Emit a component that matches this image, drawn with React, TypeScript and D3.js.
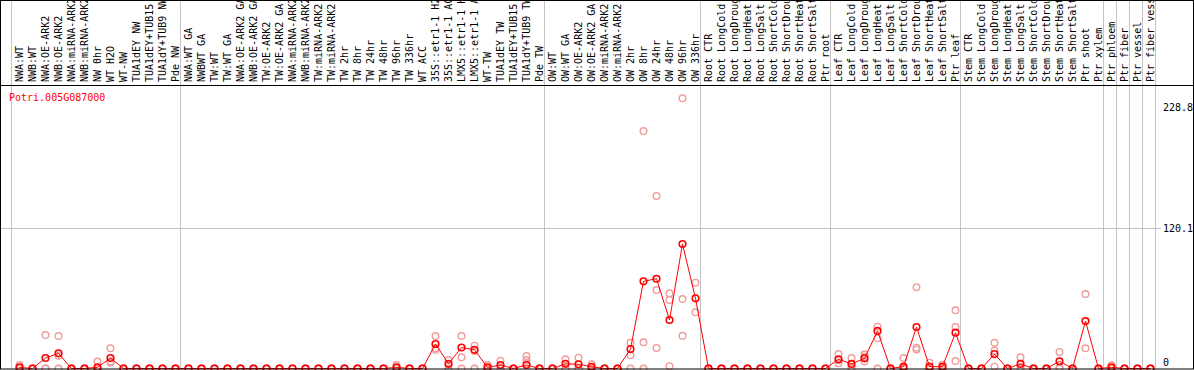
import React from "react";
import * as d3 from "d3";

const gene = "Potri.005G087000";

const labels: string[] = [
  "NWA:WT", "NWB:WT", "NWA:OE-ARK2", "NWB:OE-ARK2", "NWA:miRNA-ARK2", "NWB:miRNA-ARK2",
  "NW 0hr", "WT H2O", "WT-NW", "TUA1dEY NW", "TUA1dEY+TUB15", "TUA1dY+TUB9 NW", "Pde NW",
  "NWA:WT GA", "NWBWT GA", "TW:WT", "TW:WT GA", "NWA:OE-ARK2 GA", "NWB:OE-ARK2 GA",
  "TW:OE-ARK2", "TW:OE-ARK2 GA", "NWA:miRNA-ARK2", "NWB:miRNA-ARK2", "TW:miRNA-ARK2",
  "TW:miRNA-ARK2", "TW 2hr", "TW 8hr", "TW 24hr", "TW 48hr", "TW 96hr", "TW 336hr", "WT ACC",
  "35S::etr1-1 H2", "35S::etr1-1 AC", "LMX5::etr1-1 H", "LMX5::etr1-1 A", "WT-TW",
  "TUA1dEY TW", "TUA1dEY+TUB15", "TUA1dY+TUB9 TW", "Pde TW",
  "OW:WT", "OW:WT GA", "OW:OE-ARK2", "OW:OE-ARK2 GA", "OW:miRNA-ARK2", "OW:miRNA-ARK2",
  "OW 2hr", "OW 8hr", "OW 24hr", "OW 48hr", "OW 96hr", "OW 336hr",
  "Root CTR", "Root LongCold", "Root LongDroug", "Root LongHeat", "Root LongSalt",
  "Root ShortCold", "Root ShortDrou", "Root ShortHeat", "Root ShortSalt", "Ptr root",
  "Leaf CTR", "Leaf LongCold", "Leaf LongDroug", "Leaf LongHeat", "Leaf LongSalt",
  "Leaf ShortCold", "Leaf ShortDrou", "Leaf ShortHeat", "Leaf ShortSalt", "Ptr leaf",
  "Stem CTR", "Stem LongCold", "Stem LongDroug", "Stem LongHeat", "Stem LongSalt",
  "Stem ShortCold", "Stem ShortDrou", "Stem ShortHeat", "Stem ShortSalt", "Ptr shoot",
  "Ptr xylem", "Ptr phloem", "Ptr fiber", "Ptr vessel", "Ptr fiber vess",
];

// index at which each separated group starts (plus the end)
const groupBreaks: number[] = [0, 13, 41, 53, 63, 73, 84, 85, 86, 87, 88];

const means: number[] = [
  1, 0, 9, 13, 0, 0, 1, 9, 0, 0, 0, 0, 0,
  0, 0, 0, 0, 0, 0, 0, 0, 0, 0, 0, 0, 0, 0, 0, 0, 1, 0, 0, 21, 4, 18, 16, 1, 3, 0, 3, 0,
  0, 4, 3.6, 1.5, 0, 0, 16.7, 74.8, 77, 41.6, 106.8, 60.2,
  0, 0, 0, 0, 0, 0, 0, 0, 0, 0,
  7.9, 3.9, 8.7, 32.2, 0, 1.6, 35.6, 1.6, 1.6, 30.7,
  0, 0, 12.4, 0, 3.9, 0, 0, 6.2, 0, 40.7,
  0, 1, 0, 0, 0,
];

const rep1: (number | null)[] = [
  3, 0, 28.7, 27.9, 0, 0, 6, 17.3, 0, 0, 0, 0, 0,
  0, 0, 0, 0, 0, 0, 0, 0, 0, 0, 0, 0, 0, 0, 0, 0, 3, 0, 0, 27.9, 7.3, 27.9, 19.6, 3, 6.7, 0, 10.7, 0,
  0, 7.9, 9.3, 3.6, 0, 0, 22, 203.7, 148, 64.5, 231.8, 73.6,
  0, 0, 0, 0, 0, 0, 0, 0, 0, 0,
  12.4, 9, 12.2, 35.9, 0, 9, 69.7, 5, 3.3, 49.9,
  0, 0, 22.1, 0, 9.6, 0, 0, 14.2, 0, 63.9,
  0, 2.7, 0, 0, 0,
];

const rep2: (number | null)[] = [
  0, 0, 0, 11, 0, 0, 0, 6, 0, 0, 0, 0, 0,
  0, 0, 0, 0, 0, 0, 0, 0, 0, 0, 0, 0, 0, 0, 0, 0, 0, 0, 0, 17.3, 3, 9.6, 15, 0, 0, 0, 7.3, 0,
  0, 0, 0, 0, 0, 0, 11.3, 22.5, 67.3, 58.8, 59.6, 48.2,
  0, 0, 0, 0, 0, 0, 0, 0, 0, 0,
  7, 1, 10.1, 25.9, 0, 0, 17.9, 0, 0, 35.6,
  0, 0, 15.3, 0, 1, 0, 0, 1, 0, 17.3,
  0, 0, 0, 0, 0,
];

const rep3: (number | null)[] = [
  0, 0, 0, 0, 0, 0, 0, 5, 0, 0, 0, 0, 0,
  0, 0, 0, 0, 0, 0, 0, 0, 0, 0, 0, 0, 0, 0, 0, 0, 0, 0, 0, 16, 0, 0, 0, 0, 0, 0, 4.5, 0,
  0, 0, 0, 0, 0, 0, 0, 0, 17.6, 2, 28.1, null,
  0, 0, 0, 0, 0, 0, 0, 0, 0, 0,
  4.5, 0, 6, 0, 0, 0, 16.4, 0, 0, 6.4,
  0, 0, 1.6, 0, 0, 0, 0, 0, 0, null,
  0, 0, 0, 0, 0,
];

const axisTicks: number[] = [228.8, 120.1, 0];
const gridValues: number[] = [120.1];

export default function App() {
  const W = 1194;
  const H = 370;
  const labelBase = 85.5;
  const bottom = 368.5;

  const x = d3.scaleLinear().domain([0, labels.length - 1]).range([19.5, 19.5 + 13 * (labels.length - 1)]);
  const y = d3.scaleLinear().domain([0, 120.1]).range([bottom, 228.5]);
  const step = 13;

  const line = d3
    .line<number>()
    .x((_, i) => x(i))
    .y((d) => y(d));

  const reps = [rep1, rep2, rep3];
  const pink = "#f09c9c";
  const red = "#ff0000";
  const grey = "#c4c4c4";
  const rightLabelX = 1163;

  const tickLabelY = (v: number) => {
    const py = y(v);
    // keep labels inside the frame
    return Math.min(Math.max(py + 3.5, 111), 366);
  };

  return (
    <svg
      width={W}
      height={H}
      style={{ position: "absolute", left: 0, top: 0 }}
      fontFamily="DejaVu Sans Mono, monospace"
      fontSize={10}
    >
      <rect x={0} y={0} width={W} height={H} fill="#fff" />
      {groupBreaks.map((b) => (
        <line
          key={"g" + b}
          x1={x(b) - step / 2 - 1.5}
          x2={x(b) - step / 2 - 1.5}
          y1={0}
          y2={bottom}
          stroke={grey}
          strokeWidth={1}
        />
      ))}
      {gridValues.map((v) => (
        <line key={"h" + v} x1={0} x2={1161} y1={y(v)} y2={y(v)} stroke={grey} strokeWidth={1} />
      ))}
      <line x1={0} x2={W} y1={labelBase} y2={labelBase} stroke="#000" strokeWidth={1} />
      {labels.map((l, i) => (
        <text
          key={"l" + i}
          transform={`translate(${x(i) + 3.5},${labelBase - 3.5}) rotate(-90)`}
          fill="#000"
        >
          {l}
        </text>
      ))}
      <text x={9} y={100.5} fill={red}>
        {gene}
      </text>
      {axisTicks.map((v) => (
        <text key={"t" + v} x={rightLabelX} y={tickLabelY(v)} fill="#000">
          {String(v)}
        </text>
      ))}
      {reps.map((r, k) =>
        r.map((v, i) =>
          v === null ? null : (
            <circle
              key={`r${k}-${i}`}
              cx={x(i)}
              cy={y(v)}
              r={3.3}
              fill="none"
              stroke={pink}
              strokeWidth={1.4}
            />
          )
        )
      )}
      <path d={line(means) || ""} fill="none" stroke={red} strokeWidth={1} />
      {means.map((v, i) => (
        <circle key={"m" + i} cx={x(i)} cy={y(v)} r={3.3} fill="none" stroke={red} strokeWidth={1.6} />
      ))}
      <rect x={0.5} y={0.5} width={W - 1} height={bottom - 0.5 + 0.5} fill="none" stroke="#000" strokeWidth={1} />
    </svg>
  );
}
